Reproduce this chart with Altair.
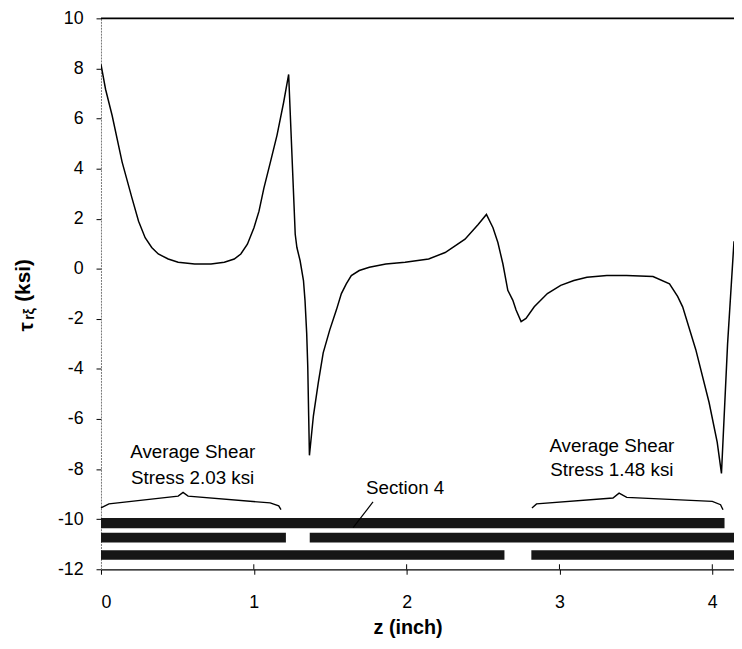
import altair as alt
import pandas as pd

# ---- curve: z (inch) vs tau (ksi)
z_vals = [0.000, 0.030, 0.073, 0.138, 0.203, 0.246, 0.289, 0.332, 0.375, 0.440,
          0.505, 0.613, 0.720, 0.807, 0.872, 0.915, 0.958, 1.001, 1.034, 1.066,
          1.109, 1.152, 1.195, 1.228, 1.271, 1.282, 1.303, 1.325, 1.335, 1.346,
          1.353, 1.359, 1.364, 1.390, 1.422, 1.454, 1.497, 1.540, 1.573, 1.605,
          1.638, 1.690, 1.756, 1.864, 1.990, 2.144, 2.252, 2.382, 2.468, 2.522,
          2.565, 2.597, 2.630, 2.662, 2.695, 2.716, 2.749, 2.781, 2.835, 2.921,
          3.008, 3.094, 3.180, 3.310, 3.439, 3.612, 3.720, 3.773, 3.806, 3.892,
          3.979, 4.032, 4.060, 4.100, 4.142]
tau_vals = [8.16, 7.17, 6.12, 4.27, 2.82, 1.90, 1.24, 0.85, 0.59, 0.39,
            0.26, 0.19, 0.19, 0.26, 0.39, 0.59, 0.98, 1.64, 2.30, 3.22,
            4.27, 5.34, 6.64, 7.76, 1.38, 0.85, 0.32, -0.47, -1.26, -2.57,
            -3.89, -5.87, -7.45, -5.87, -4.55, -3.36, -2.44, -1.65, -0.99, -0.60,
            -0.27, -0.07, 0.06, 0.19, 0.26, 0.39, 0.65, 1.18, 1.77, 2.17,
            1.64, 1.05, 0.19, -0.86, -1.26, -1.65, -2.11, -1.98, -1.52, -0.99,
            -0.66, -0.47, -0.34, -0.27, -0.27, -0.31, -0.60, -1.10, -1.52, -3.23,
            -5.34, -6.92, -8.17, -3.00, 1.10]

# ---- section strips at the bottom
bar_z0 = [0.0, 0.0, 1.366, 0.0, 2.816]
bar_z1 = [4.08, 1.21, 4.142, 2.64, 4.142]
bar_lo = [-10.36, -10.93, -10.93, -11.62, -11.62]
bar_hi = [-9.95, -10.54, -10.54, -11.24, -11.24]

# ---- braces
brace_left_z = [0.0, 0.052, 0.505, 0.537, 0.57, 1.107, 1.163, 1.178]
brace_left_v = [-9.55, -9.39, -9.08, -8.93, -9.08, -9.35, -9.47, -9.62]
brace_right_z = [2.82, 2.85, 3.35, 3.39, 3.44, 4.00, 4.054, 4.07]
brace_right_v = [-9.55, -9.39, -9.155, -8.96, -9.13, -9.29, -9.42, -9.62]

# ---- annotation texts
ann_text = ["Average Shear", "Stress 2.03 ksi", "Average Shear", "Stress 1.48 ksi", "Section 4"]
ann_z = [0.60, 0.60, 3.343, 3.343, 1.99]
ann_v = [-7.30, -8.37, -7.06, -8.05, -8.76]

leader_z = [1.78, 1.65]
leader_v = [-9.31, -10.34]

x_ticks = [0, 1, 2, 3, 4]
y_ticks = list(range(-12, 11, 2))

FONT = "Liberation Sans"
xs = alt.Scale(domain=[0, 4.142], nice=False, zero=False)
ys = alt.Scale(domain=[-12, 10], nice=False, zero=False)

curve_df = pd.DataFrame({"z": z_vals, "tau": tau_vals})
bars_df = pd.DataFrame({"z0": bar_z0, "z1": bar_z1, "lo": bar_lo, "hi": bar_hi})
brace_df = pd.concat([
    pd.DataFrame({"z": brace_left_z, "v": brace_left_v, "b": "L"}),
    pd.DataFrame({"z": brace_right_z, "v": brace_right_v, "b": "R"}),
])
ann_df = pd.DataFrame({"t": ann_text, "z": ann_z, "v": ann_v})
leader_df = pd.DataFrame({"z": leader_z, "v": leader_v})
xt_df = pd.DataFrame({"z": x_ticks[1:], "lo": -12, "hi": -11.8})
one = pd.DataFrame({"a": [0]})

x_axis = alt.Axis(values=x_ticks, labelExpr="'' + datum.value", grid=False,
                  labelFont=FONT, labelFontSize=18, labelColor="black", labelPadding=20,
                  tickColor="black", tickSize=5, tickWidth=1,
                  domainColor="black", domainWidth=1.3,
                  title="z (inch)", titleFont=FONT, titleFontSize=20, titleFontWeight="bold",
                  titleColor="black", titleX=310, titleY=59, titleBaseline="middle")
y_axis = alt.Axis(values=y_ticks, labelExpr="'' + datum.value", grid=False,
                  labelFont=FONT, labelFontSize=18, labelColor="black", labelPadding=13,
                  tickColor="black", tickSize=5, tickWidth=1,
                  domainColor="#777777", domainDash=[2, 1], domainWidth=1,
                  title=None)

curve = alt.Chart(curve_df).mark_line(color="black", strokeWidth=1.5, clip=True).encode(
    x=alt.X("z:Q", scale=xs, axis=x_axis),
    y=alt.Y("tau:Q", scale=ys, axis=y_axis),
)

bars = alt.Chart(bars_df).mark_rect(color="#161616", clip=True).encode(
    x=alt.X("z0:Q", scale=xs), x2="z1:Q",
    y=alt.Y("lo:Q", scale=ys), y2="hi:Q",
)

braces = alt.Chart(brace_df).mark_line(color="black", strokeWidth=1.4).encode(
    x=alt.X("z:Q", scale=xs), y=alt.Y("v:Q", scale=ys), detail="b:N",
)

leader = alt.Chart(leader_df).mark_line(color="black", strokeWidth=1.2).encode(
    x=alt.X("z:Q", scale=xs), y=alt.Y("v:Q", scale=ys),
)

xticks_in = alt.Chart(xt_df).mark_rule(color="black", strokeWidth=1).encode(
    x=alt.X("z:Q", scale=xs), y=alt.Y("lo:Q", scale=ys), y2="hi:Q",
)

top_line = alt.Chart(one).mark_rule(color="black", strokeWidth=1.6).encode(
    y=alt.datum(10, scale=ys),
)

ann = alt.Chart(ann_df).mark_text(font=FONT, fontSize=19, color="black",
                                  align="center", baseline="middle").encode(
    x=alt.X("z:Q", scale=xs), y=alt.Y("v:Q", scale=ys), text="t:N",
)

# y-axis title with subscripts: tau_{r xi} (ksi)
t_tau = alt.Chart(one).mark_text(text="τ", font=FONT, fontSize=21, fontWeight="bold",
                                 angle=270, align="center", baseline="middle",
                                 color="black").encode(x=alt.value(-75), y=alt.value(312))
t_sub = alt.Chart(one).mark_text(text="rξ", font=FONT, fontSize=14, fontWeight="bold",
                                 angle=270, align="center", baseline="middle",
                                 color="black").encode(x=alt.value(-72), y=alt.value(299))
t_ksi = alt.Chart(one).mark_text(text="(ksi)", font=FONT, fontSize=21, fontWeight="bold",
                                 angle=270, align="center", baseline="middle",
                                 color="black").encode(x=alt.value(-78), y=alt.value(265))

chart = alt.layer(bars, curve, braces, leader, xticks_in, top_line, ann,
                  t_tau, t_sub, t_ksi).properties(
    width=640, height=557,
    autosize=alt.AutoSizeParams(type="none"),
    padding={"left": 94, "top": 7, "right": 0, "bottom": 66},
    background="white",
).configure_view(stroke=None)

chart.save("out.html", embed_options={"renderer": "svg", "actions": False})
